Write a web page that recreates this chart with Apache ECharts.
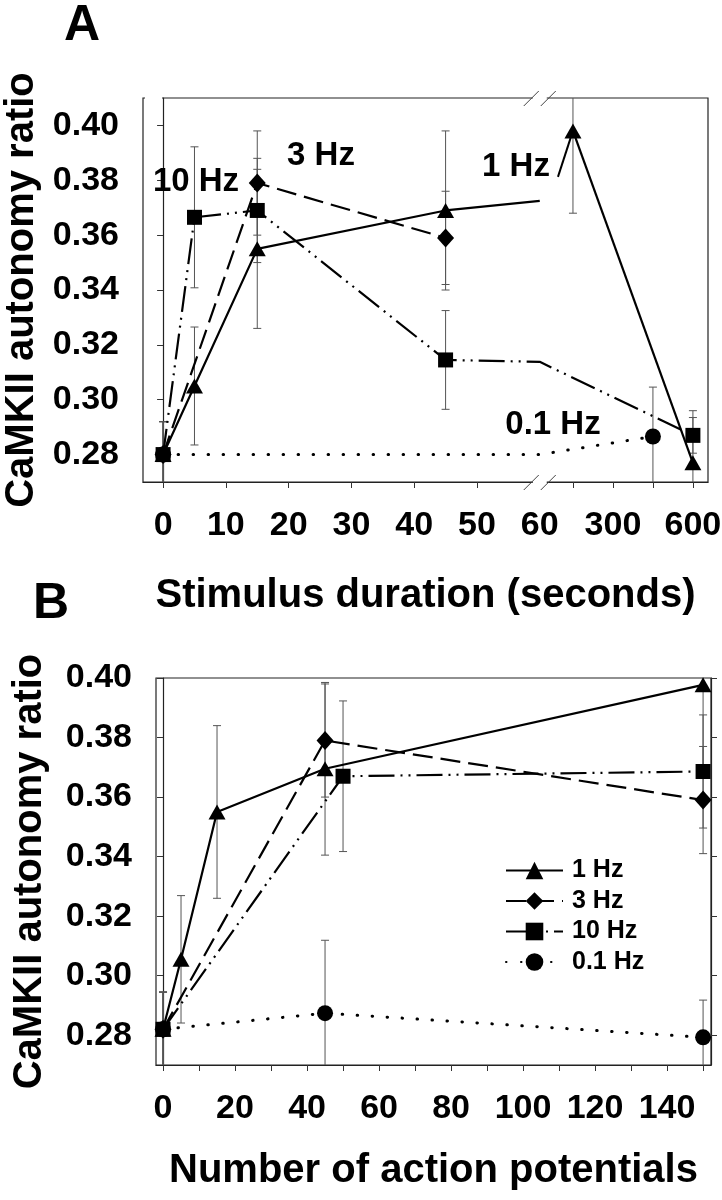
<!DOCTYPE html>
<html>
<head>
<meta charset="utf-8">
<script src="https://cdn.jsdelivr.net/npm/echarts@6/dist/echarts.min.js"></script>
<style>
html,body{margin:0;padding:0;background:#fff;}
#chart{width:722px;height:1200px;}
</style>
</head>
<body>
<div id="chart"></div>
<script>
// ---------------- DATA ----------------
// Panel A : x = stimulus duration (s), broken axis after 60 s
const tickSecA = [0, 10, 20, 30, 40, 50, 60, 300, 600];
const tickLabelsA = ['0', '10', '20', '30', '40', '50', '60', '300', '600'];
const minorTickSecA = [0, 10, 20, 30, 40, 50, 150, 300, 450, 600];

const secA_1Hz = [0, 5, 15, 45, 150, 600];
const valA_1Hz = [0.280, 0.305, 0.355, 0.369, 0.398, 0.277];
const errA_1Hz = [0.012, 0.0215, 0.029, 0.029, 0.030, 0.019];
const leadA_1Hz = [60, 0.3725];        // end of the stroke drawn after 45 s
const splitA_1Hz = 4;                  // points from this index form the second segment

const secA_3Hz = [0, 15, 45];
const valA_3Hz = [0.280, 0.379, 0.359];
const errA_3Hz = [0.012, 0.019, 0.017];

const secA_10Hz = [0, 5, 15, 45, 600];
const valA_10Hz = [0.280, 0.3665, 0.369, 0.3145, 0.287];
const errA_10Hz = [0.012, 0.0257, 0.019, 0.018, 0.0065];
const bendA_10Hz = [60, 0.3138];       // bend of the line at the axis break

const secA_01Hz = [0, 450];
const valA_01Hz = [0.280, 0.2866];
const errA_01Hz = [0.012, 0.018];
const bendA_01Hz = [60, 0.280];

const yTicks = [0.28, 0.30, 0.32, 0.34, 0.36, 0.38, 0.40];

// Panel B : x = number of action potentials
const tickAPB = [0, 20, 40, 60, 80, 100, 120, 140];
const minorTickAPB = [0, 10, 20, 30, 40, 50, 60, 70, 80, 90, 100, 110, 120, 130, 140, 150];

const apB_1Hz = [0, 5, 15, 45, 150];
const valB_1Hz = [0.282, 0.3055, 0.355, 0.3695, 0.3977];
const errB_1Hz = [0.0125, 0.0214, 0.029, 0.029, 0.030];

const apB_3Hz = [0, 45, 150];
const valB_3Hz = [0.282, 0.379, 0.359];
const errB_3Hz = [0.0125, 0.019, 0.018];

const apB_10Hz = [0, 50, 150];
const valB_10Hz = [0.282, 0.367, 0.3686];
const errB_10Hz = [0.0125, 0.0253, 0.019];

const apB_01Hz = [0, 45, 150];
const valB_01Hz = [0.282, 0.2874, 0.2793];
const errB_01Hz = [0.0125, 0.0245, 0.0125];

const seriesNames = ['1 Hz', '3 Hz', '10 Hz', '0.1 Hz'];

// ---------------- HELPERS ----------------
// broken-axis mapping for panel A (linear up to 60 s, compressed beyond)
const fA = s => (s <= 60 ? s : 58.92 + 0.04246 * s);

const FONT = "'Liberation Sans', Arial, Helvetica, sans-serif";
const STY = {
  '1 Hz':  { symbol: 'triangle', size: [17, 15], dash: 'solid', width: 2.2, cap: 'butt' },
  '3 Hz':  { symbol: 'diamond',  size: [17, 19], dash: [20, 8], width: 2.2, cap: 'butt' },
  '10 Hz': { symbol: 'rect',     size: [15, 15], dash: [26, 6, 2, 6, 2, 6], width: 2.2, cap: 'butt' },
  '0.1 Hz':{ symbol: 'circle',   size: [16, 16], dash: [0.5, 14.5], width: 3, cap: 'round' }
};

function pts(xs, ys, fx) { return xs.map((x, i) => [fx ? fx(x) : x, ys[i]]); }
function errPts(xs, ys, es, fx) { return xs.map((x, i) => [fx ? fx(x) : x, ys[i], es[i]]); }
function ghost(p) { return { value: p, symbol: 'none' }; }

function lineSeries(name, data, gi, key) {
  const s = STY[key];
  return {
    name: name, type: 'line', xAxisIndex: gi, yAxisIndex: gi,
    data: data, symbol: s.symbol, symbolSize: s.size, showSymbol: true,
    lineStyle: { color: '#000', width: s.width, type: s.dash, cap: s.cap },
    itemStyle: { color: '#000' }, z: 5, animation: false, clip: false
  };
}

function errSeries(data, gi, ymin, ymax) {
  return {
    type: 'custom', xAxisIndex: gi, yAxisIndex: gi, data: data, z: 2, animation: false,
    silent: true,
    renderItem: function (params, api) {
      const x = api.value(0), y = api.value(1), e = api.value(2);
      const hi = y + e, lo = y - e;
      const pTop = api.coord([x, Math.min(hi, ymax)]);
      const pBot = api.coord([x, Math.max(lo, ymin)]);
      const st = { stroke: '#555', lineWidth: 1 };
      const ch = [{ type: 'line', shape: { x1: pTop[0], y1: pTop[1], x2: pBot[0], y2: pBot[1] }, style: st }];
      const c = 4;
      if (hi <= ymax) ch.push({ type: 'line', shape: { x1: pTop[0] - c, y1: pTop[1], x2: pTop[0] + c, y2: pTop[1] }, style: st });
      if (lo >= ymin) ch.push({ type: 'line', shape: { x1: pBot[0] - c, y1: pBot[1], x2: pBot[0] + c, y2: pBot[1] }, style: st });
      return { type: 'group', children: ch };
    }
  };
}

const axisLineSty = { show: true, lineStyle: { color: '#222', width: 1.2 } };
const tickSty = { show: true, length: 6, lineStyle: { color: '#333', width: 1 } };

// ---------------- BUILD ----------------
const chart = echarts.init(document.getElementById('chart'), null, { renderer: 'canvas' });

const A_YMIN = 0.27, A_YMAX = 0.41, B_YMIN = 0.27, B_YMAX = 0.40;

// panel A series
const a1 = pts(secA_1Hz, valA_1Hz, fA);
const seriesA = [
  errSeries(errPts(secA_1Hz, valA_1Hz, errA_1Hz, fA), 0, A_YMIN, A_YMAX),
  errSeries(errPts(secA_3Hz, valA_3Hz, errA_3Hz, fA), 0, A_YMIN, A_YMAX),
  errSeries(errPts(secA_10Hz, valA_10Hz, errA_10Hz, fA), 0, A_YMIN, A_YMAX),
  errSeries(errPts(secA_01Hz, valA_01Hz, errA_01Hz, fA), 0, A_YMIN, A_YMAX),
  lineSeries('A 0.1 Hz', [[fA(secA_01Hz[0]), valA_01Hz[0]], ghost([fA(bendA_01Hz[0]), bendA_01Hz[1]]), [fA(secA_01Hz[1]), valA_01Hz[1]]], 0, '0.1 Hz'),
  lineSeries('A 10 Hz', (function () {
    const p = pts(secA_10Hz, valA_10Hz, fA);
    return [p[0], p[1], p[2], p[3], ghost([fA(bendA_10Hz[0]), bendA_10Hz[1]]), p[4]];
  })(), 0, '10 Hz'),
  lineSeries('A 3 Hz', pts(secA_3Hz, valA_3Hz, fA), 0, '3 Hz'),
  lineSeries('A 1 Hz a', a1.slice(0, splitA_1Hz).concat([ghost([fA(leadA_1Hz[0]), leadA_1Hz[1]])]), 0, '1 Hz'),
  lineSeries('A 1 Hz b', a1.slice(splitA_1Hz), 0, '1 Hz')
];

// panel B series
const seriesB = [
  errSeries(errPts(apB_1Hz, valB_1Hz, errB_1Hz), 1, B_YMIN, B_YMAX),
  errSeries(errPts(apB_3Hz, valB_3Hz, errB_3Hz), 1, B_YMIN, B_YMAX),
  errSeries(errPts(apB_10Hz, valB_10Hz, errB_10Hz), 1, B_YMIN, B_YMAX),
  errSeries(errPts(apB_01Hz, valB_01Hz, errB_01Hz), 1, B_YMIN, B_YMAX),
  lineSeries('0.1 Hz', pts(apB_01Hz, valB_01Hz), 1, '0.1 Hz'),
  lineSeries('10 Hz', pts(apB_10Hz, valB_10Hz), 1, '10 Hz'),
  lineSeries('3 Hz', pts(apB_3Hz, valB_3Hz), 1, '3 Hz'),
  lineSeries('1 Hz', pts(apB_1Hz, valB_1Hz), 1, '1 Hz')
];

const labelMapA = {};
tickSecA.forEach((s, i) => { labelMapA[fA(s).toFixed(4)] = tickLabelsA[i]; });

const TICKFS = 34, TITLEFS = 40;

const option = {
  backgroundColor: '#fff',
  animation: false,
  grid: [
    { left: 143, top: 98, width: 565, height: 384, show: true, borderColor: '#222', borderWidth: 1.2, backgroundColor: 'transparent', containLabel: false, outerBoundsMode: 'none' },
    { left: 156, top: 678, width: 555, height: 387, show: true, borderColor: '#222', borderWidth: 1.2, backgroundColor: 'transparent', containLabel: false, outerBoundsMode: 'none' }
  ],
  xAxis: [
    {
      type: 'value', gridIndex: 0, min: -3.2, max: 86.8,
      axisLine: axisLineSty, splitLine: { show: false },
      axisTick: Object.assign({ customValues: minorTickSecA.map(fA) }, tickSty),
      axisLabel: {
        customValues: tickSecA.map(fA), margin: 27,
        fontSize: TICKFS, fontWeight: 'bold', color: '#000', fontFamily: FONT,
        formatter: v => labelMapA[Number(v).toFixed(4)] || ''
      },
      name: 'Stimulus duration (seconds)', nameLocation: 'middle', nameGap: 94,
      nameTextStyle: { fontSize: TITLEFS, fontWeight: 'bold', color: '#000', fontFamily: FONT }
    },
    {
      type: 'value', gridIndex: 1, min: -1.95, max: 152.2,
      axisLine: axisLineSty, splitLine: { show: false },
      axisTick: Object.assign({ customValues: minorTickAPB }, tickSty),
      axisLabel: {
        customValues: tickAPB, margin: 27,
        fontSize: TICKFS, fontWeight: 'bold', color: '#000', fontFamily: FONT
      },
      name: 'Number of action potentials', nameLocation: 'middle', nameGap: 86,
      nameTextStyle: { fontSize: 40, fontWeight: 'bold', color: '#000', fontFamily: FONT }
    }
  ],
  yAxis: [
    {
      type: 'value', gridIndex: 0, min: A_YMIN, max: A_YMAX,
      axisLine: axisLineSty, splitLine: { show: false },
      axisTick: Object.assign({ customValues: yTicks }, tickSty),
      axisLabel: {
        customValues: yTicks, margin: 24, formatter: v => Number(v).toFixed(2),
        fontSize: TICKFS, fontWeight: 'bold', color: '#000', fontFamily: FONT
      },
      name: 'CaMKII autonomy ratio', nameLocation: 'middle', nameGap: 93,
      nameTextStyle: { fontSize: TITLEFS, fontWeight: 'bold', color: '#000', fontFamily: FONT }
    },
    {
      type: 'value', gridIndex: 1, min: B_YMIN, max: B_YMAX,
      axisLine: axisLineSty, splitLine: { show: false },
      axisTick: Object.assign({ customValues: yTicks }, tickSty),
      axisLabel: {
        customValues: yTicks, margin: 24, formatter: v => Number(v).toFixed(2),
        fontSize: TICKFS, fontWeight: 'bold', color: '#000', fontFamily: FONT
      },
      name: 'CaMKII autonomy ratio', nameLocation: 'middle', nameGap: 106,
      nameTextStyle: { fontSize: TITLEFS, fontWeight: 'bold', color: '#000', fontFamily: FONT }
    },
    {
      type: 'value', gridIndex: 1, min: B_YMIN, max: B_YMAX, position: 'right',
      axisLine: axisLineSty, splitLine: { show: false },
      axisTick: Object.assign({ customValues: yTicks }, tickSty),
      axisLabel: { show: false }
    }
  ],
  legend: {
    data: seriesNames, orient: 'vertical', left: 500, top: 853,
    itemWidth: 57, itemHeight: 22, itemGap: 5.5, selectedMode: false,
    textStyle: { fontSize: 25, fontWeight: 'bold', color: '#000', fontFamily: FONT, padding: [0, 0, 0, 4] }
  },
  series: seriesA.concat(seriesB)
};

chart.setOption(option);

// ---------------- ANNOTATIONS ----------------
const txt = (t, x, y, size, align) => ({
  type: 'text', x: x, y: y, z: 50,
  style: { text: t, fontSize: size, fontWeight: 'bold', fill: '#000', fontFamily: FONT, align: align || 'center', verticalAlign: 'middle' }
});

const gfx = [
  txt('A', 82, 26, 50),
  txt('B', 51, 604, 50),
  txt('10 Hz', 196, 182, 33),
  txt('3 Hz', 321, 156, 33),
  txt('1 Hz', 516, 167, 33),
  txt('0.1 Hz', 553, 425, 33)
];

// leader from "1 Hz" label to the 150 s triangle
const tri = chart.convertToPixel({ gridIndex: 0 }, [fA(secA_1Hz[4]), valA_1Hz[4]]);
gfx.push({ type: 'line', z: 50, shape: { x1: tri[0] - 15, y1: tri[1] + 46, x2: tri[0] - 2, y2: tri[1] + 6 }, style: { stroke: '#000', lineWidth: 2 } });

// axis-break marks on panel A (top and bottom)
const brk = chart.convertToPixel({ gridIndex: 0 }, [fA(60), A_YMIN])[0];
const yBot = chart.convertToPixel({ gridIndex: 0 }, [0, A_YMIN])[1];
const yTop = chart.convertToPixel({ gridIndex: 0 }, [0, A_YMAX])[1];
[yTop, yBot].forEach(yy => {
  gfx.push({ type: 'rect', z: 60, shape: { x: brk - 7, y: yy - 2, width: 14, height: 4 }, style: { fill: '#fff' } });
  gfx.push({ type: 'line', z: 61, shape: { x1: brk - 16, y1: yy + 8, x2: brk - 1, y2: yy - 7 }, style: { stroke: '#444', lineWidth: 1 } });
  gfx.push({ type: 'line', z: 61, shape: { x1: brk + 1, y1: yy + 8, x2: brk + 16, y2: yy - 7 }, style: { stroke: '#444', lineWidth: 1 } });
});
// top border of panel A starts a little right of the axis
const xLeft = chart.convertToPixel({ gridIndex: 0 }, [-3.2, A_YMAX])[0];
gfx.push({ type: 'rect', z: 60, shape: { x: xLeft + 2, y: yTop - 2, width: 17, height: 4 }, style: { fill: '#fff' } });

chart.setOption({ graphic: gfx });
</script>
</body>
</html>
